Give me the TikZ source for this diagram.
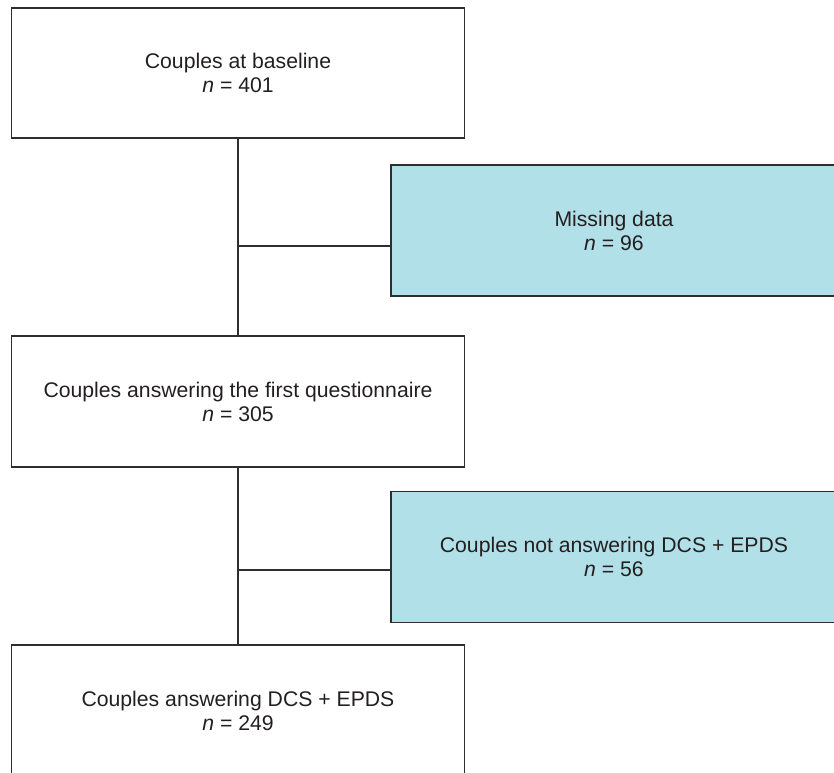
\documentclass[tikz,border=0pt]{standalone}
\usepackage{fontspec}
\setmainfont{Liberation Sans}
\definecolor{lblue}{HTML}{B2E0E8}
\definecolor{boxline}{HTML}{2E2E2E}
\definecolor{txt}{HTML}{231F20}
\begin{document}
\begin{tikzpicture}[x=1pt,y=-1pt,
  box/.style={draw=boxline, line width=1.4pt, rectangle, inner sep=0pt,
    minimum width=453pt, minimum height=130pt, align=center,
    font=\fontsize{21.2}{24}\selectfont, text=txt},
  bluebox/.style={box, fill=lblue, minimum width=446pt, minimum height=131pt},
  link/.style={draw=boxline, line width=1.4pt}]
\useasboundingbox (0,0) rectangle (834,772);
\clip (0,0) rectangle (834,772);
\node[box] (b1) at (238,73) {Couples at baseline\\\textit{n} = 401};
\node[bluebox] (m) at (614,230.5) {Missing data\\\textit{n} = 96};
\node[box, minimum height=131pt] (b2) at (238,401.5) {Couples answering the first questionnaire\\\textit{n} = 305};
\node[bluebox] (na) at (614,557) {Couples not answering DCS + EPDS\\\textit{n} = 56};
\node[box, minimum height=131pt] (b3) at (238,710.5) {Couples answering DCS + EPDS\\\textit{n} = 249};
\coordinate (j1) at (238,246);
\coordinate (j2) at (238,570);
\draw[link] (b1.south) -- (b2.north);
\draw[link] (j1) -- (j1 -| m.west);
\draw[link] (b2.south) -- (b3.north);
\draw[link] (j2) -- (j2 -| na.west);
\end{tikzpicture}
\end{document}
